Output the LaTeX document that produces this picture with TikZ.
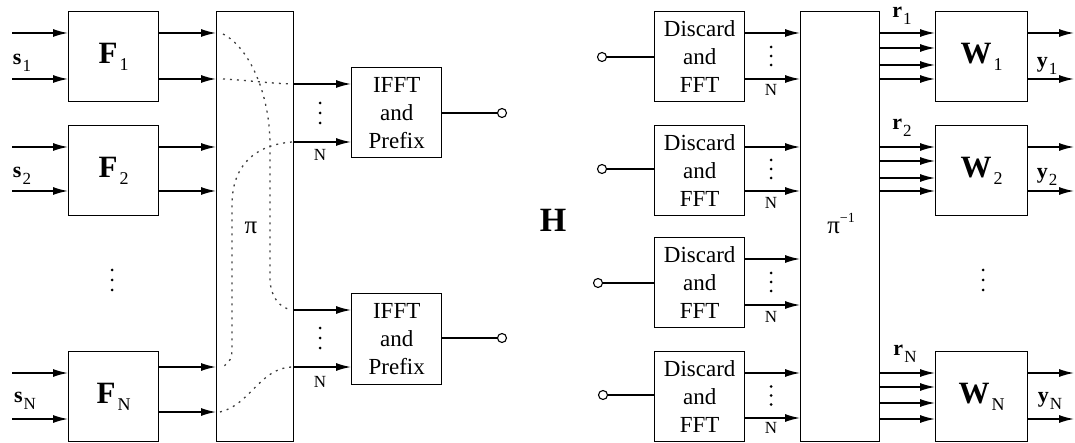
\documentclass[tikz,border=0pt]{standalone}
\usepackage{fontspec}
\setmainfont{Liberation Serif}
\usetikzlibrary{arrows.meta}
\newcommand\bigsub[2]{{\fontsize{31}{31}\selectfont\bfseries #1}\hspace{2pt}\raisebox{-7pt}{\fontsize{18}{18}\selectfont #2}}
\newcommand\smsub[2]{{\fontsize{22}{22}\selectfont\bfseries #1}\hspace{1pt}\raisebox{-7pt}{\fontsize{17}{17}\selectfont #2}}
\begin{document}
\begin{tikzpicture}[x=1pt,y=-1pt,
 box/.style={draw, line width=1.4pt, inner sep=0pt, anchor=north west},
 fbox/.style={box, minimum width=90pt, minimum height=90pt},
 txtbox/.style={box, minimum width=90pt, minimum height=90pt, align=center, font=\fontsize{23}{28}\selectfont},
 arr/.style={line width=1.4pt, -{Latex[length=15pt,width=8pt]}},
 ln/.style={line width=1.4pt},
 perm/.style={black!75, line width=1.3pt, dash pattern=on 2pt off 5pt},
 term/.style={circle, draw, line width=1.1pt, fill=white, inner sep=0pt, minimum size=9pt},
 dot/.style={circle, fill=black, inner sep=0pt, minimum size=3pt},
 nl/.style={font=\fontsize{17}{17}\selectfont, inner sep=0pt},
 lab/.style={inner sep=0pt},
]
\useasboundingbox (0,0) rectangle (1075,443);

% ---------- transmitter ----------
\node[fbox] (F1) at (68,11) {\bigsub{F}{1}};
\node[fbox] (F2) at (68,125) {\bigsub{F}{2}};
\node[fbox] (FN) at (68,351) {\bigsub{F}{N}};
\node[box, minimum width=77pt, minimum height=430pt] (pi) at (216,11) {};
\node[lab, font=\fontsize{25}{25}\selectfont] (pilab) at (251,228) {π};
\node[txtbox, minimum height=90pt] (IF1) at (351,67) {IFFT\\and\\Prefix};
\node[txtbox, minimum height=91pt] (IF2) at (351,293) {IFFT\\and\\Prefix};

\node[lab] (ls1) at (22,63) {\smsub{s}{1}};
\node[lab] (ls2) at (22,176) {\smsub{s}{2}};
\node[lab] (lsN) at (25,401) {\smsub{s}{N}};

\foreach \n/\ya/\yb in {1/33/79, 2/147/191, N/373/419} {
  \coordinate (sa\n) at (12,\ya);
  \coordinate (sb\n) at (12,\yb);
  \draw[arr] (sa\n) -- (F\n.west |- sa\n);
  \draw[arr] (sb\n) -- (F\n.west |- sb\n);
}
\foreach \n/\ya/\yb in {1/33/79, 2/147/191, N/367/412} {
  \draw[arr] (F\n.east |- 0,\ya) -- (pi.west |- 0,\ya);
  \draw[arr] (F\n.east |- 0,\yb) -- (pi.west |- 0,\yb);
}
\foreach \y [count=\i] in {270,280,290} \node[dot] (fd\i) at (112,\y) {};

\draw[arr] (pi.east |- 0,84) -- (IF1.west |- 0,84);
\draw[arr] (pi.east |- 0,142) -- (IF1.west |- 0,142);
\draw[arr] (pi.east |- 0,310) -- (IF2.west |- 0,310);
\draw[arr] (pi.east |- 0,367) -- (IF2.west |- 0,367);
\foreach \y [count=\i] in {103,113,123} \node[dot] (id\i) at (320,\y) {};
\foreach \y [count=\i] in {328,338,348} \node[dot] (je\i) at (320,\y) {};
\node[nl] (n1) at (320,155) {N};
\node[nl] (n2) at (320,382) {N};

\node[term] (t1) at (502,113) {};
\node[term] (t2) at (502,338) {};
\draw[ln] (IF1.east |- t1) -- (t1);
\draw[ln] (IF2.east |- t2) -- (t2);

% permutation paths
\draw[perm] (223,34) .. controls (250,48) and (270,95) .. (270,145) -- (270,280) .. controls (271,298) and (280,308) .. (292,310);
\draw[perm] (223,79) .. controls (245,80) and (265,83) .. (292,84);
\draw[perm] (292,142) .. controls (255,145) and (232,165) .. (232,205) -- (232,350) .. controls (232,360) and (227,366) .. (220,367);
\draw[perm] (220,412) .. controls (250,405) and (260,368) .. (292,367);

% ---------- channel ----------
\node[lab, font=\fontsize{34}{34}\selectfont\bfseries] (H) at (553,220) {H};

% ---------- receiver ----------
\node[txtbox] (D1) at (654,11) {Discard\\and\\FFT};
\node[txtbox] (D2) at (654,125) {Discard\\and\\FFT};
\node[txtbox] (D3) at (654,237) {Discard\\and\\FFT};
\node[txtbox] (D4) at (654,351) {Discard\\and\\FFT};
\node[box, minimum width=79pt, minimum height=430pt] (pinv) at (800,11) {};
\node[lab, font=\fontsize{25}{25}\selectfont] (pinvlab) at (841,224) {π\raisebox{11pt}{\fontsize{14}{14}\selectfont −1}};

\node[term] (r1) at (602,57) {};
\node[term] (r2) at (602,169) {};
\node[term] (r3) at (598,283) {};
\node[term] (r4) at (603,395) {};
\foreach \i in {1,2,3,4} \draw[ln] (r\i) -- (D\i.west |- r\i);

\foreach \i/\ya/\yb/\yn in {1/33/79/90, 2/147/191/203, 3/259/305/317, 4/373/418/428} {
  \draw[arr] (D\i.east |- 0,\ya) -- (pinv.west |- 0,\ya);
  \draw[arr] (D\i.east |- 0,\yb) -- (pinv.west |- 0,\yb);
  \node[nl] (dn\i) at (771,\yn) {N};
  \pgfmathsetmacro\ym{(\ya+\yb)/2}
  \node[dot] (dd\i a) at (771,\ym-9) {};
  \node[dot] (dd\i b) at (771,\ym) {};
  \node[dot] (dd\i c) at (771,\ym+9) {};
}

\node[box, minimum width=92pt, minimum height=90pt] (W1) at (935,11) {\bigsub{W}{1}};
\node[box, minimum width=92pt, minimum height=90pt] (W2) at (935,125) {\bigsub{W}{2}};
\node[box, minimum width=92pt, minimum height=90pt] (WN) at (935,351) {\bigsub{W}{N}};

\foreach \n/\a/\b/\c/\d in {1/33/48/65/79, 2/147/161/178/191, N/373/387/403/419} {
  \foreach \y in {\a,\b,\c,\d} \draw[arr] (pinv.east |- 0,\y) -- (W\n.west |- 0,\y);
  \coordinate (oa\n) at (1074,\a);
  \coordinate (ob\n) at (1074,\d);
  \draw[arr] (W\n.east |- oa\n) -- (oa\n);
  \draw[arr] (W\n.east |- ob\n) -- (ob\n);
}
\foreach \y [count=\i] in {270,280,290} \node[dot] (wd\i) at (983,\y) {};

\node[lab] (lr1) at (902,16) {\smsub{r}{1}};
\node[lab] (lr2) at (902,128) {\smsub{r}{2}};
\node[lab] (lrN) at (905,354) {\smsub{r}{N}};
\node[lab] (ly1) at (1047,66) {\smsub{y}{1}};
\node[lab] (ly2) at (1047,177) {\smsub{y}{2}};
\node[lab] (lyN) at (1050,401) {\smsub{y}{N}};
\end{tikzpicture}
\end{document}
